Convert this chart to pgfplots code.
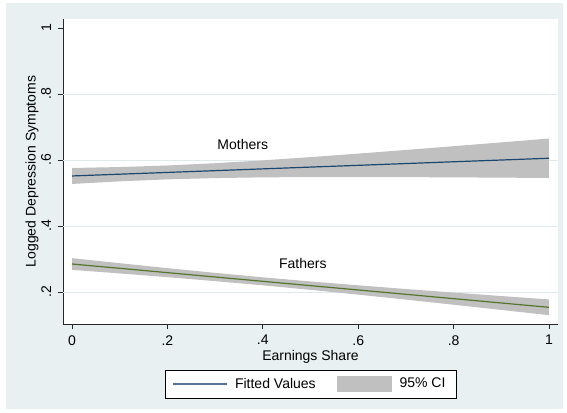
\documentclass[border=0pt]{standalone}
\usepackage{fontspec}
\setmainfont{Liberation Sans}
\usepackage{pgfplots}
\pgfplotsset{compat=1.18}
\usepackage{pgfplotstable}
\definecolor{bgblue}{RGB}{232,240,242}
\definecolor{stnavy}{RGB}{26,71,111}
\definecolor{stgreen}{RGB}{85,117,47}
\definecolor{cigray}{RGB}{192,192,192}
\definecolor{gridc}{RGB}{224,234,237}

% fitted values
\pgfplotstableread{
x    fit
0.0  0.5515
0.1  0.5569
0.2  0.5622
0.3  0.5676
0.4  0.5730
0.5  0.5784
0.6  0.5837
0.7  0.5891
0.8  0.5945
0.9  0.5998
1.0  0.6052
}\mothersfit

\pgfplotstableread{
x    fit
0.0  0.2848
0.1  0.2717
0.2  0.2586
0.3  0.2454
0.4  0.2323
0.5  0.2192
0.6  0.2061
0.7  0.1930
0.8  0.1798
0.9  0.1667
1.0  0.1536
}\fathersfit

% 95% CI outlines: lower bound forward, upper bound backward
\pgfplotstableread{
x    y
0.0  0.5273
0.1  0.5353
0.2  0.5412
0.3  0.5451
0.4  0.5473
0.5  0.5482
0.6  0.5482
0.7  0.5479
0.8  0.5473
0.9  0.5464
1.0  0.5455
1.0  0.6649
0.9  0.6532
0.8  0.6417
0.7  0.6303
0.6  0.6192
0.5  0.6086
0.4  0.5987
0.3  0.5901
0.2  0.5832
0.1  0.5785
0.0  0.5757
}\mothersci

\pgfplotstableread{
x    y
0.0  0.2671
0.1  0.2562
0.2  0.2450
0.3  0.2329
0.4  0.2202
0.5  0.2065
0.6  0.1920
0.7  0.1770
0.8  0.1614
0.9  0.1457
1.0  0.1298
1.0  0.1774
0.9  0.1877
0.8  0.1982
0.7  0.2090
0.6  0.2202
0.5  0.2319
0.4  0.2444
0.3  0.2579
0.2  0.2722
0.1  0.2872
0.0  0.3025
}\fathersci

\begin{document}
\begin{tikzpicture}
\path (-47.25pt,-66pt) rectangle (378pt,243pt);
\fill[bgblue] (-42.75pt,-63.75pt) rectangle (375pt,240.75pt);
\begin{axis}[
  at={(0,0)}, anchor=south west,
  scale only axis,
  width=371.25pt, height=228.75pt,
  xmin=-0.0189, xmax=1.0189,
  ymin=0.103, ymax=1.027,
  axis x line*=bottom, axis y line*=left,
  axis line style={black!85, line width=0.6pt},
  axis background/.style={fill=white},
  xtick={0,0.2,0.4,0.6,0.8,1},
  xticklabels={0,.2,.4,.6,.8,1},
  ytick={0.2,0.4,0.6,0.8,1},
  yticklabels={.2,.4,.6,.8,1},
  tick align=outside,
  major tick length=3.75pt,
  tick style={black!85, line width=0.6pt},
  extra y ticks={0.2,0.4,0.6,0.8},
  extra y tick labels={},
  extra y tick style={ymajorgrids=true, major tick length=0pt},
  grid style={gridc, line width=0.6pt},
  tick label style={font=\fontsize{10.5}{12}\selectfont},
  yticklabel style={rotate=90, anchor=south, inner sep=5pt},
  xticklabel style={anchor=north, inner sep=4.5pt},
  label style={font=\fontsize{10.5}{12}\selectfont},
  xlabel={Earnings Share},
  ylabel={Logged Depression Symptoms},
  xlabel style={at={(axis description cs:0.5,-0.108)}, anchor=center},
  ylabel style={at={(axis description cs:-0.0626,0.5)}, anchor=center, rotate=0},
  legend columns=2,
  legend style={at={(0.5,-0.197)}, anchor=center, draw=black, fill=white,
    font=\fontsize{10.5}{12}\selectfont, inner xsep=6pt, inner ysep=4pt,
    /tikz/every even column/.append style={column sep=14pt}},
  legend cell align=left,
]
\addplot[fill=cigray, draw=none, forget plot] table[x=x, y=y]{\mothersci} -- cycle;
\addplot[fill=cigray, draw=none, forget plot] table[x=x, y=y]{\fathersci} -- cycle;
\addplot[stnavy, line width=0.9pt, forget plot] table[x=x, y=fit]{\mothersfit};
\addplot[stgreen, line width=0.9pt, forget plot] table[x=x, y=fit]{\fathersfit};
\addlegendimage{legend image code/.code={\draw[stnavy!75, line width=0.9pt] (0pt,0pt) -- (40pt,0pt); \path (44pt,0pt);}}
\addlegendentry{Fitted Values}
\addlegendimage{legend image code/.code={\fill[cigray] (0pt,-5.6pt) rectangle (40.5pt,5.6pt); \path (44.5pt,0pt);}}
\addlegendentry{95\% CI}
\node[font=\fontsize{10.5}{12}\selectfont] at (axis cs:0.358,0.648) {Mothers};
\node[font=\fontsize{10.5}{12}\selectfont] at (axis cs:0.484,0.285) {Fathers};
\end{axis}
\end{tikzpicture}
\end{document}
